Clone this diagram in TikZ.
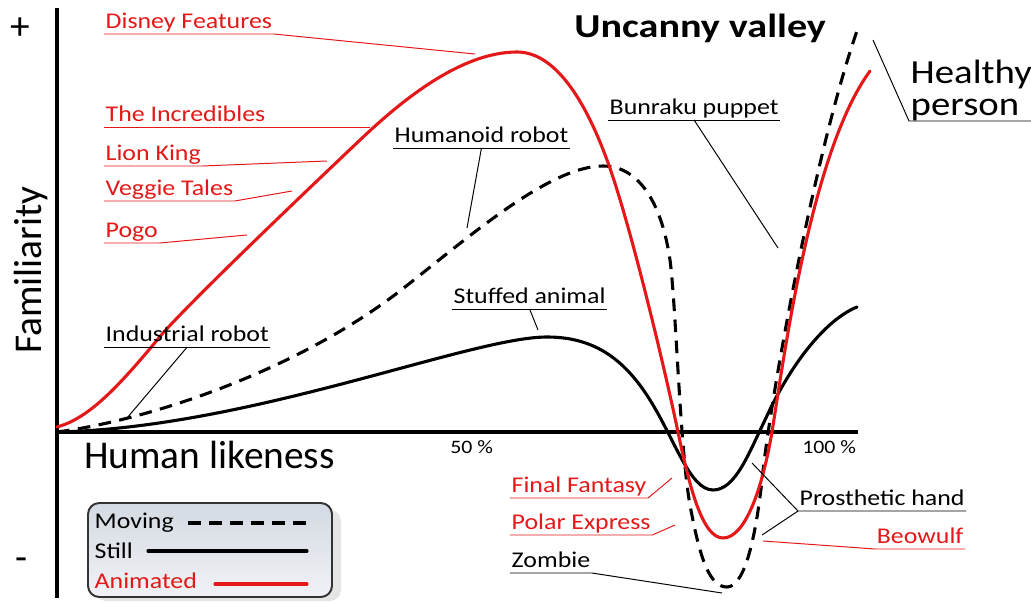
\documentclass[tikz,border=0pt]{standalone}
\usepackage{fontspec}
\setmainfont{Carlito}
\newfontfamily\rotfont{Carlito}[FakeStretch=1.15]
\newfontfamily\titfont{Carlito}[FakeStretch=1.2]
\usetikzlibrary{positioning, calc}
\definecolor{vermelho}{RGB}{228,24,24}
\definecolor{cinzaazul}{RGB}{212,218,227}
\definecolor{cinzaclaro}{RGB}{240,242,245}
\tikzset{
  rotulo/.style={font=\rotfont\fontsize{16}{19}\selectfont, inner xsep=1pt, inner ysep=0pt, text depth=3.5pt, anchor=south west},
  grande/.style={font=\fontsize{28}{30}\selectfont, inner sep=0pt},
  guia/.style={line width=0.7pt},
  eixo/.style={line width=2.4pt},
  curva/.style={line width=2.2pt, line cap=round, line join=round},
  parado/.style={curva, black},
  movendo/.style={curva, black, dash pattern=on 9pt off 6pt, line cap=butt},
  animado/.style={curva, vermelho},
}

\begin{document}
\begin{tikzpicture}[x=0.025cm, y=-0.025cm]
\useasboundingbox (0,0) rectangle (1031,603);

% Eixos
\draw[eixo] (57,8) -- (57,598);
\draw[eixo] (57,432) -- (858,432);
\node[grande] (mais) at (20,29) {+};
\node[grande] (menos) at (22,564) {-};
\node[grande, rotate=90] (familiaridade) at (31,270) {Familiarity};
\node[grande, anchor=base west] (semelhanca) at (84,468) {Human likeness};
\node[font=\rotfont\fontsize{13.5}{15}\selectfont, inner sep=0pt, anchor=base west] (cinquenta) at (450,453) {50 \%};
\node[font=\rotfont\fontsize{13.5}{15}\selectfont, inner sep=0pt, anchor=base west] (cem) at (802,453) {100 \%};
\node[font=\titfont\bfseries\fontsize{23.8}{26}\selectfont, inner sep=0pt, anchor=base west] (titulo) at (574,38) {Uncanny valley};

% Curvas
\draw[parado] (57,432) .. controls (250,428) and (470,337) .. (547,337)
  .. controls (595,337) and (625,360) .. (650,400)
  .. controls (675,440) and (690,490) .. (713,490)
  .. controls (735,490) and (748,455) .. (765,420)
  .. controls (790,365) and (825,320) .. (857,307);
\draw[movendo] (57,432) .. controls (150,420) and (300,370) .. (405,287)
  .. controls (470,236) and (550,166) .. (603,166)
  .. controls (640,166) and (662,205) .. (670,260)
  .. controls (676,305) and (680,450) .. (690,505)
  .. controls (700,560) and (710,587) .. (727,587)
  .. controls (745,587) and (756,535) .. (762,480)
  .. controls (770,400) and (815,150) .. (858,28);
\draw[animado] (57,427) .. controls (90,418) and (120,385) .. (163,333)
  .. controls (203,289) and (320,178) .. (360,140)
  .. controls (400,102) and (460,52) .. (517,52)
  .. controls (555,52) and (585,100) .. (607,160)
  .. controls (630,222) and (665,370) .. (678,432)
  .. controls (690,490) and (703,538) .. (723,538)
  .. controls (745,538) and (762,490) .. (772,432)
  .. controls (785,350) and (812,150) .. (870,71);

% Pontos das guias
\coordinate (pDisney) at (475,54);
\coordinate (pIncr) at (370,127);
\coordinate (pLion) at (327,161);
\coordinate (pVeggie) at (292,191);
\coordinate (pPogo) at (247,235);
\coordinate (pIndus) at (127,418);
\coordinate (pHumanoid) at (467,228);
\coordinate (pStuffed) at (538,330);
\coordinate (pBunraku) at (778,248);
\coordinate (pHealthy) at (873,40);
\coordinate (pFinal) at (672,478);
\coordinate (pPolar) at (675,525);
\coordinate (pZombie) at (722,593);
\coordinate (pProt1) at (752,463);
\coordinate (pProt2) at (762,535);
\coordinate (pBeo) at (763,541);

% Rotulos animados
\node[rotulo, text=vermelho] (disney) at (104,34) {Disney Features};
\node[rotulo, text=vermelho] (incr) at (104,127) {The Incredibles};
\node[rotulo, text=vermelho] (lion) at (104,166) {Lion King};
\node[rotulo, text=vermelho] (veggie) at (104,201) {Veggie Tales};
\node[rotulo, text=vermelho] (pogo) at (104,243) {Pogo};
\node[rotulo, text=vermelho] (final) at (510,498) {Final Fantasy};
\node[rotulo, text=vermelho] (polar) at (510,535) {Polar Express};
\node[rotulo, text=vermelho, anchor=south east] (beowulf) at (965,549) {Beowulf};

\draw[guia, vermelho] (disney.south west) -- (disney.south east) -- (pDisney);
\draw[guia, vermelho] (incr.south west) -- (pIncr);
\draw[guia, vermelho] (lion.south west) -- (lion.south east) -- (pLion);
\draw[guia, vermelho] (veggie.south west) -- (veggie.south east) -- (pVeggie);
\draw[guia, vermelho] (pogo.south west) -- (pogo.south east) -- (pPogo);
\draw[guia, vermelho] (final.south west) -- (final.south east) -- (pFinal);
\draw[guia, vermelho] (polar.south west) -- (polar.south east) -- (pPolar);
\draw[guia, vermelho] (beowulf.south east) -- (beowulf.south west) -- (pBeo);

% Rotulos pretos
\node[rotulo] (indus) at (104,347) {Industrial robot};
\node[rotulo] (humanoid) at (393,148) {Humanoid robot};
\node[rotulo] (stuffed) at (452,309) {Stuffed animal};
\node[rotulo] (bunraku) at (608,120) {Bunraku puppet};
\node[rotulo] (zombie) at (510,573) {Zombie};
\node[rotulo] (prot) at (798,511) {Prosthetic hand};
\node[font=\rotfont\fontsize{24}{22.7}\selectfont, align=left, inner xsep=1pt, inner ysep=0pt, anchor=south west] (healthy) at (909,121) {Healthy\\person};

\draw[guia] (indus.south west) -- (indus.south east);
\draw[guia] (indus.south) -- (pIndus);
\draw[guia] (humanoid.south west) -- (humanoid.south east);
\draw[guia] (humanoid.south) -- (pHumanoid);
\draw[guia] (stuffed.south west) -- (stuffed.south east);
\draw[guia] (stuffed.south) -- (pStuffed);
\draw[guia] (bunraku.south west) -- (bunraku.south east);
\draw[guia] (bunraku.south) -- (pBunraku);
\draw[guia] (zombie.south west) -- (zombie.south east) -- (pZombie);
\draw[guia] (prot.south east) -- (prot.south west) -- (pProt1);
\draw[guia] (prot.south west) -- (pProt2);
\draw[guia] (pHealthy) -- (healthy.south west) -- (healthy.south east);

% Legenda
\fill[black!10, rounded corners=8] (95,510) rectangle (341,601);
\shade[top color=cinzaazul, bottom color=cinzaclaro, draw=black!80, line width=1.4pt, rounded corners=8] (88,503) rectangle (332,597);
\node[rotulo, anchor=base west] (moving) at (93,528) {Moving};
\node[rotulo, anchor=base west] (still) at (93,558) {Still};
\node[rotulo, anchor=base west, text=vermelho] (animated) at (93,588) {Animated};
\draw[movendo] (188,523) -- (307,523);
\draw[parado] (148,551) -- (307,551);
\draw[animado] (215,584) -- (307,584);

\end{tikzpicture}
\end{document}
